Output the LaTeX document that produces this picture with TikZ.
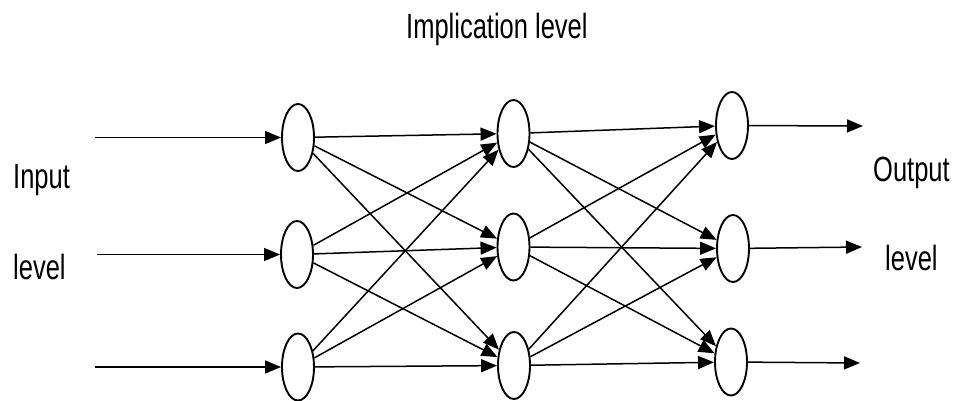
\documentclass[tikz,border=0pt]{standalone}
\usepackage{fontspec}
\setmainfont{Liberation Sans}
\usetikzlibrary{arrows.meta,shapes.geometric}
\tikzset{
  neuron/.style={draw, ellipse, line width=1.9pt, minimum width=32pt, minimum height=67pt, inner sep=0pt, fill=white},
  link/.style={line width=1.5pt, -{Triangle[length=16pt,width=13pt]}},
  lbl/.style={anchor=base west, inner sep=0pt, font=\fontsize{25}{30}\selectfont}
}
\newcommand{\tallt}[1]{\scalebox{1.02}[1.4]{#1}}
\begin{document}
\begin{tikzpicture}[x=1pt,y=-1pt]
\useasboundingbox (0,0) rectangle (969,401);
% neurons
\node[neuron] (a1) at (298,137.5) {};
\node[neuron] (a2) at (297,254.5) {};
\node[neuron] (a3) at (298,367) {};
\node[neuron] (b1) at (513.5,133.5) {};
\node[neuron] (b2) at (513.5,247) {};
\node[neuron] (b3) at (514,365.5) {};
\node[neuron] (c1) at (732,125.5) {};
\node[neuron] (c2) at (733,248.5) {};
\node[neuron] (c3) at (731,362) {};
% input / output ends
\coordinate (i1) at (95,137.5);
\coordinate (i2) at (97,254.5);
\coordinate (i3) at (95,367);
\coordinate (o1) at (863,126);
\coordinate (o2) at (862,247);
\coordinate (o3) at (860,363);
\draw[link] (i1) -- (a1);
\draw[link] (i2) -- (a2);
\draw[link] (i3) -- (a3);
\foreach \s in {a1,a2,a3}{
  \foreach \t in {b1,b2,b3}{
    \draw[link] (\s) -- (\t);
  }
}
\foreach \s in {b1,b2,b3}{
  \foreach \t in {c1,c2,c3}{
    \draw[link] (\s) -- (\t);
  }
}
\draw[link] (c1) -- (o1);
\draw[link] (c2) -- (o2);
\draw[link] (c3) -- (o3);
% labels
\node[lbl] (t1) at (406,39) {\tallt{Implication level}};
\node[lbl] (t2) at (13,188) {\tallt{Input}};
\node[lbl] (t3) at (13,279) {\tallt{level}};
\node[lbl] (t4) at (873,181) {\tallt{Output}};
\node[lbl] (t5) at (885,270) {\tallt{level}};
\end{tikzpicture}
\end{document}
